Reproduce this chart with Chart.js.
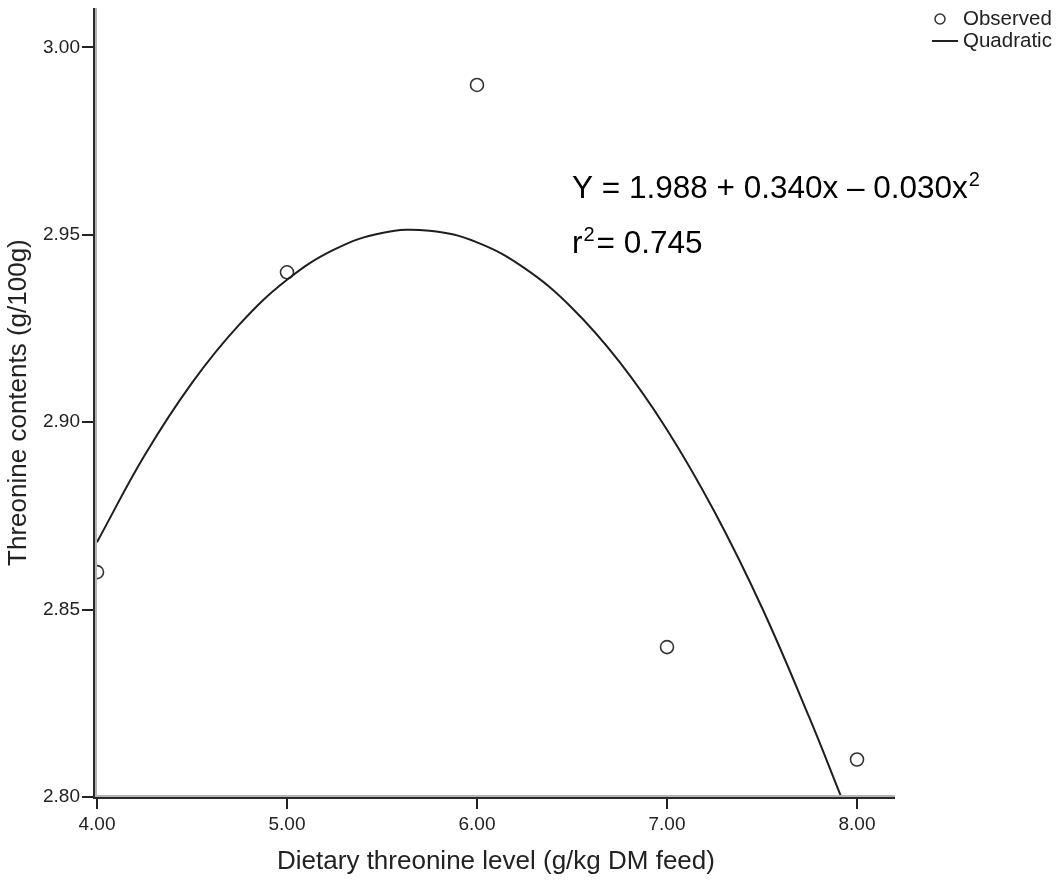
<!DOCTYPE html>
<html>
<head>
<meta charset="utf-8">
<title>Threonine contents</title>
<script src="https://cdn.jsdelivr.net/npm/chart.js@4.4.1/dist/chart.umd.min.js"></script>
<style>
  html, body { margin: 0; padding: 0; background: #fff; }
  #wrap { position: relative; width: 1061px; height: 891px; }
</style>
</head>
<body>
<div id="wrap"><canvas id="myChart"></canvas></div>
<script>
// observed points
const obsX = [4, 5, 6, 7, 8];
const obsY = [2.86, 2.94, 2.99, 2.84, 2.81];

// quadratic fit line
const fitX = [4.0, 4.25, 4.5, 4.75, 5.0, 5.25, 5.5, 5.75, 6.0, 6.25, 6.5, 6.75, 7.0, 7.25, 7.5, 7.75, 7.917];
const fitY = [2.8680, 2.8911, 2.9105, 2.9261, 2.9380, 2.9461, 2.9505, 2.9511, 2.9480, 2.9411, 2.9305, 2.9161, 2.8980, 2.8761, 2.8505, 2.8211, 2.8000];

const xTicks = [4, 5, 6, 7, 8];
const yTicks = [2.80, 2.85, 2.90, 2.95, 3.00];

const FONT = "'Liberation Sans', Arial, sans-serif";

const axisLines = {
  id: 'axisLines',
  afterDatasetsDraw(chart) {
    const { ctx, chartArea } = chart;
    const { left, right, top, bottom } = chartArea;
    ctx.save();
    // grey inner lines
    ctx.strokeStyle = '#b4b4b4';
    ctx.lineWidth = 2;
    ctx.beginPath();
    ctx.moveTo(left - 1, top);
    ctx.lineTo(left - 1, bottom - 1);
    ctx.lineTo(right, bottom - 1);
    ctx.stroke();
    // dark outer lines
    ctx.strokeStyle = '#2a2a2a';
    ctx.beginPath();
    ctx.moveTo(left - 3, top);
    ctx.lineTo(left - 3, bottom + 1);
    ctx.lineTo(right, bottom + 1);
    ctx.stroke();
    ctx.restore();
  },
  afterDraw(chart) {
    const ctx = chart.ctx;
    ctx.save();
    ctx.fillStyle = '#000';
    ctx.textBaseline = 'alphabetic';
    ctx.textAlign = 'left';

    // equation
    let x = 572;
    ctx.font = '31.5px ' + FONT;
    const eq = 'Y = 1.988 + 0.340x \u2013 0.030x';
    ctx.fillText(eq, x, 198);
    x += ctx.measureText(eq).width + 1;
    ctx.font = '20px ' + FONT;
    ctx.fillText('2', x, 186);

    x = 572;
    ctx.font = '31.5px ' + FONT;
    ctx.fillText('r', x, 253);
    x += ctx.measureText('r').width + 1;
    ctx.font = '20px ' + FONT;
    ctx.fillText('2', x, 241);
    x += ctx.measureText('2').width + 2;
    ctx.font = '31.5px ' + FONT;
    ctx.fillText('= 0.745', x, 253);

    // legend
    ctx.strokeStyle = '#333';
    ctx.lineWidth = 1.5;
    ctx.beginPath();
    ctx.arc(940, 19, 5, 0, Math.PI * 2);
    ctx.stroke();
    ctx.strokeStyle = '#222';
    ctx.lineWidth = 2;
    ctx.beginPath();
    ctx.moveTo(932, 41);
    ctx.lineTo(958, 41);
    ctx.stroke();
    ctx.font = '20.5px ' + FONT;
    ctx.fillStyle = '#222';
    ctx.textBaseline = 'middle';
    ctx.fillText('Observed', 963, 19);
    ctx.fillText('Quadratic', 963, 41);
    ctx.restore();
  }
};

const ctx = document.getElementById('myChart').getContext('2d');
const myChart = new Chart(ctx, {
  type: 'scatter',
  data: {
    datasets: [
      {
        label: 'Quadratic',
        type: 'line',
        data: fitX.map((x, i) => ({ x: x, y: fitY[i] })),
        borderColor: '#1e1e1e',
        borderWidth: 2,
        pointRadius: 0,
        tension: 0.4,
        fill: false,
        clip: 0,
      },
      {
        label: 'Observed',
        data: obsX.map((x, i) => ({ x: x, y: obsY[i] })),
        pointStyle: 'circle',
        pointRadius: 6.5,
        borderWidth: 1.6,
        borderColor: '#333',
        backgroundColor: 'rgba(0,0,0,0)',
        clip: 0,
      },
    ],
  },
  options: {
    responsive: true,
    maintainAspectRatio: false,
    animation: false,
    layout: { padding: { top: 8, right: 166, left: 0, bottom: 0 } },
    plugins: {
      legend: { display: false },
      tooltip: { enabled: false },
    },
    scales: {
      x: {
        type: 'linear',
        min: 4,
        max: 8.2,
        afterBuildTicks: (scale) => { scale.ticks = xTicks.map((v) => ({ value: v })); },
        afterFit: (scale) => { scale.height = 94; scale.paddingLeft = 0; scale.paddingRight = 0; },
        border: { display: false },
        grid: { drawOnChartArea: false, drawTicks: true, tickLength: 12, color: '#222', lineWidth: 2 },
        ticks: {
          padding: 4,
          color: '#222',
          font: { family: FONT, size: 19 },
          maxRotation: 0,
          callback: (v) => Number(v).toFixed(2),
        },
        title: {
          display: true,
          text: 'Dietary threonine level (g/kg DM feed)',
          color: '#222',
          font: { family: FONT, size: 26 },
          padding: { top: 0, bottom: 14 },
        },
      },
      y: {
        type: 'linear',
        min: 2.80,
        max: 3.0105,
        afterBuildTicks: (scale) => { scale.ticks = yTicks.map((v) => ({ value: v })); },
        afterFit: (scale) => { scale.width = 97; scale.paddingTop = 0; scale.paddingBottom = 0; },
        border: { display: false },
        grid: { drawOnChartArea: false, drawTicks: true, tickLength: 15, color: '#222', lineWidth: 2 },
        ticks: {
          padding: 2,
          color: '#222',
          font: { family: FONT, size: 19 },
          callback: (v) => Number(v).toFixed(2),
        },
        title: {
          display: true,
          text: 'Threonine contents (g/100g)',
          color: '#222',
          font: { family: FONT, size: 26 },
          padding: { top: 3, bottom: 0 },
        },
      },
    },
  },
  plugins: [axisLines],
});
</script>
</body>
</html>
